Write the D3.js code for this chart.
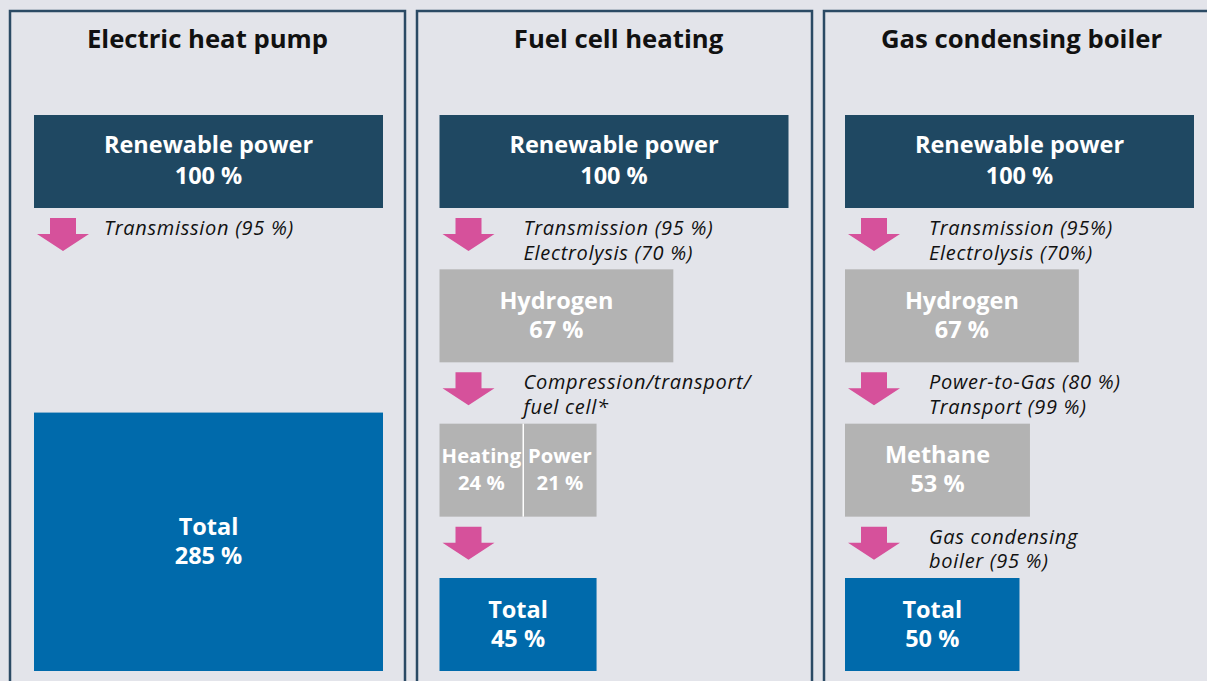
<!DOCTYPE html>
<html><head><meta charset="utf-8">
<script src="https://cdn.jsdelivr.net/npm/d3@7"></script>
<style>html,body{margin:0;padding:0;background:#e3e4ea;overflow:hidden}</style>
</head><body><svg id="c" width="1207" height="681"></svg>
<script>
// ---- data ----
const panelTitles = ["Electric heat pump", "Fuel cell heating", "Gas condensing boiler"];

const heatPumpStages = ["Renewable power", "Total"];
const heatPumpValues = [100, 285];
const heatPumpRows = [0, 3];
const heatPumpSteps = [["Transmission (95 %)"]];

const fuelCellStages = ["Renewable power", "Hydrogen", ["Heating", "Power"], "Total"];
const fuelCellValues = [100, 67, [24, 21], 45];
const fuelCellRows = [0, 1, 2, 3];
const fuelCellSteps = [["Transmission (95 %)", "Electrolysis (70 %)"], ["Compression/transport/", "fuel cell*"], []];

const gasBoilerStages = ["Renewable power", "Hydrogen", "Methane", "Total"];
const gasBoilerValues = [100, 67, 53, 50];
const gasBoilerRows = [0, 1, 2, 3];
const gasBoilerSteps = [["Transmission (95%)", "Electrolysis (70%)"], ["Power-to-Gas (80 %)", "Transport (99 %)"], ["Gas condensing", "boiler (95 %)"]];

const panels = [
  {title: panelTitles[0], stages: heatPumpStages, values: heatPumpValues, rows: heatPumpRows, steps: heatPumpSteps},
  {title: panelTitles[1], stages: fuelCellStages, values: fuelCellValues, rows: fuelCellRows, steps: fuelCellSteps},
  {title: panelTitles[2], stages: gasBoilerStages, values: gasBoilerValues, rows: gasBoilerRows, steps: gasBoilerSteps}
];

// ---- style / layout ----
const C = {bg: "#e3e4ea", border: "#2b4a64", navy: "#1f4862", blue: "#006aab", gray: "#b3b3b3", pink: "#d6519b", text: "#111"};
const FONT = "'Open Sans', 'Noto Sans', sans-serif";
const svg = d3.select("#c");
svg.append("rect").attr("width", 1207).attr("height", 681).attr("fill", C.bg);

const panelX = d3.scaleLinear().domain([0, 1]).range([10, 417]);
const boxX = d3.scaleLinear().domain([0, 1]).range([34, 439.5]);
const rowY = d3.scaleLinear().domain([0, 3]).range([115, 578]);
const rowH = 93;
const wScale = d3.scaleLinear().domain([0, 100]).range([0, 349]);
const hScale = d3.scaleLinear().domain([0, 100]).range([0, rowH]);
const labelOffset = [70, 84, 84];
const panelW = 395;

panels.forEach((p, i) => {
  const g = svg.append("g");
  const px = panelX(i);
  g.append("rect").attr("x", px).attr("y", 11).attr("width", panelW).attr("height", 700)
    .attr("fill", "none").attr("stroke", C.border).attr("stroke-width", 2.5);
  g.append("text").attr("x", px + panelW / 2 + (i === 1 ? 4 : 0)).attr("y", 48)
    .attr("text-anchor", "middle").attr("font-family", FONT).attr("font-weight", 700)
    .attr("font-size", 25.7).attr("fill", C.text).text(p.title);

  const bx = boxX(i);
  const n = p.stages.length;
  p.stages.forEach((s, k) => {
    const v = p.values[k];
    const fill = k === 0 ? C.navy : (k === n - 1 ? C.blue : C.gray);
    const row = p.rows[k];
    if (Array.isArray(v)) {
      // split box
      let x0 = bx;
      const y0 = rowY(row);
      const total = d3.sum(v);
      g.append("rect").attr("x", bx).attr("y", y0).attr("width", wScale(total)).attr("height", rowH).attr("fill", fill);
      v.forEach((vv, j) => {
        const w = wScale(vv);
        if (j > 0) g.append("line").attr("x1", x0).attr("x2", x0).attr("y1", y0).attr("y2", y0 + rowH)
          .attr("stroke", "#fff").attr("stroke-width", 1.5);
        const cx = x0 + w / 2, cy = y0 + rowH / 2;
        const t = g.append("text").attr("text-anchor", "middle").attr("font-family", FONT)
          .attr("font-weight", 700).attr("font-size", 20.3).attr("fill", "#fff");
        t.append("tspan").attr("x", cx).attr("y", cy - 7).text(s[j]);
        t.append("tspan").attr("x", cx).attr("y", cy + 20).text(vv + " %");
        x0 += w;
      });
    } else {
      const w = wScale(Math.min(v, 100));
      const h = v > 100 ? hScale(v) * 0.975 : rowH;
      const y0 = rowY(row) + rowH - h;
      g.append("rect").attr("x", bx).attr("y", y0).attr("width", w).attr("height", h).attr("fill", fill);
      const cx = bx + w / 2, cy = y0 + h / 2;
      const t = g.append("text").attr("text-anchor", "middle").attr("font-family", FONT)
        .attr("font-weight", 700).attr("font-size", 23.5).attr("fill", "#fff");
      t.append("tspan").attr("x", cx).attr("y", cy - (k === 0 ? 9 : 7)).text(s);
      t.append("tspan").attr("x", cx).attr("y", cy + 22).text(v + " %");
    }
  });

  // arrows + step labels
  p.steps.forEach((lines, k) => {
    const top = rowY(k) + rowH + 10;
    const ax = bx + 3;
    const aw = 52, sw = 26, sh = 16, ah = 33;
    const path = d3.path();
    path.moveTo(ax + (aw - sw) / 2, top);
    path.lineTo(ax + (aw + sw) / 2, top);
    path.lineTo(ax + (aw + sw) / 2, top + sh);
    path.lineTo(ax + aw, top + sh);
    path.lineTo(ax + aw / 2, top + ah);
    path.lineTo(ax, top + sh);
    path.lineTo(ax + (aw - sw) / 2, top + sh);
    path.closePath();
    g.append("path").attr("d", path.toString()).attr("fill", C.pink);
    const t = g.append("text").attr("font-family", FONT).attr("font-style", "italic")
      .attr("font-size", 20).attr("letter-spacing", 0.7).attr("fill", C.text);
    lines.forEach((ln, j) => {
      t.append("tspan").attr("x", bx + labelOffset[i]).attr("y", top + 17 + j * 24.5).text(ln);
    });
  });
});
</script>
</body></html>
